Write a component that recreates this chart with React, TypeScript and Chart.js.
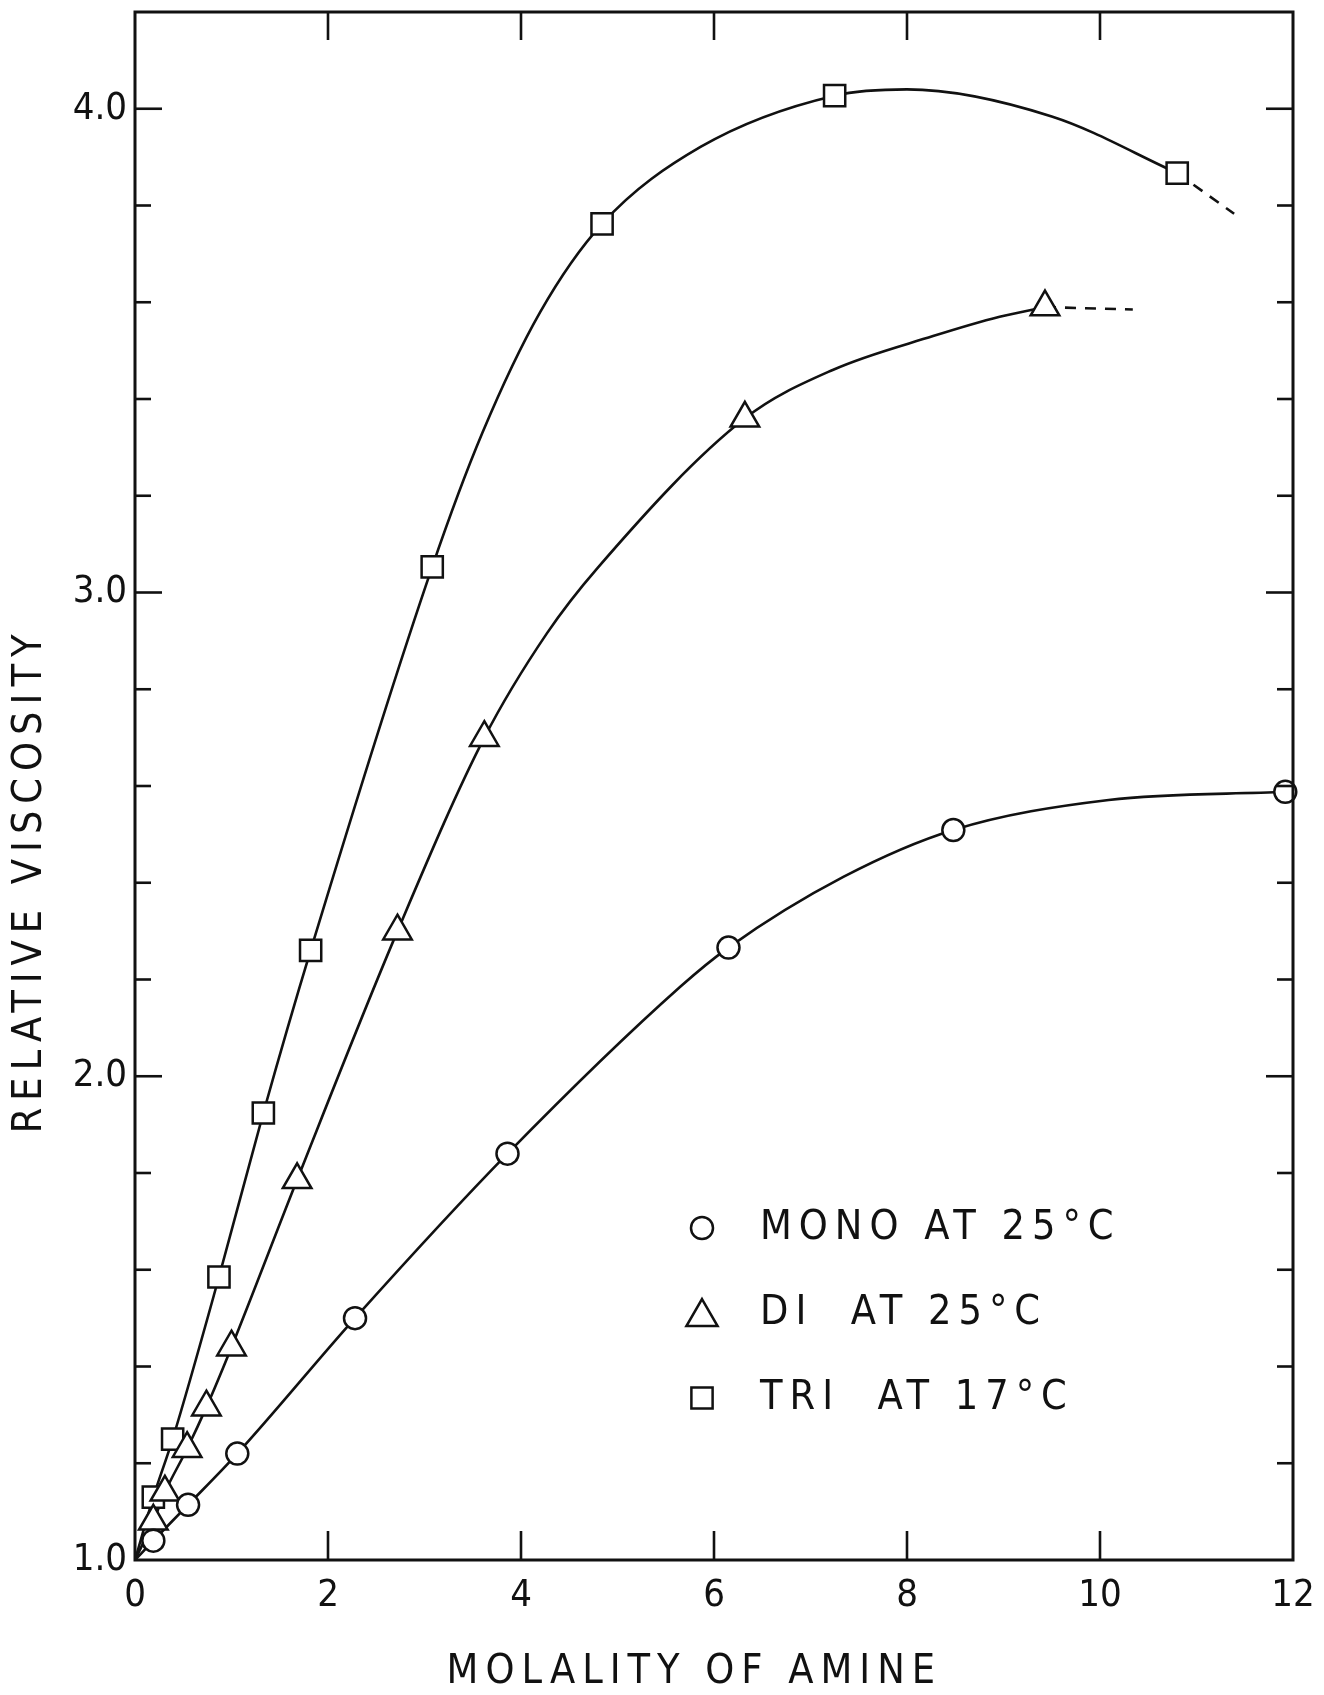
import React, { useEffect, useRef } from 'react';
import { Chart, registerables } from 'chart.js';
import { drawPoint } from 'chart.js/helpers';

Chart.register(...registerables);

// ---- data ----
const monoX = [0.19, 0.55, 1.06, 2.28, 3.86, 6.15, 8.48, 11.92];
const monoY = [1.04, 1.114, 1.22, 1.5, 1.84, 2.266, 2.509, 2.588];

const diX = [0.19, 0.31, 0.54, 0.74, 1.0, 1.68, 2.72, 3.62, 6.32, 9.43];
const diY = [1.08, 1.14, 1.23, 1.316, 1.44, 1.786, 2.3, 2.7, 3.36, 3.59];

const triX = [0.19, 0.39, 0.87, 1.33, 1.82, 3.08, 4.84, 7.25, 10.8];
const triY = [1.13, 1.25, 1.585, 1.924, 2.26, 3.053, 3.762, 4.027, 3.867];

// extra points (no markers there)
const curveStartX = 0;
const curveStartY = 1.0;
const monoCurveExtraX = [5.65, 7.34, 10.09];
const monoCurveExtraY = [2.185, 2.412, 2.571];
const diCurveExtraX = [4.27, 4.79, 7.23, 8.27, 8.96];
const diCurveExtraY = [2.916, 3.05, 3.46, 3.53, 3.57];
const triCurveExtraX = [3.6, 4.2, 5.86, 8.0, 9.5];
const triCurveExtraY = [3.33, 3.58, 3.921, 4.04, 3.984];

// dashed extrapolations
const diDashX = [9.43, 10.34];
const diDashY = [3.59, 3.585];
const triDashX = [10.8, 11.39];
const triDashY = [3.867, 3.783];

const legendLabels = ['MONO AT 25°C', 'DI  AT 25°C', 'TRI  AT 17°C'];
const legendStyles = ['circle', 'triangle', 'rect'];
const xTitle = 'MOLALITY OF AMINE';
const yTitle = 'RELATIVE VISCOSITY';

const xMin = 0, xMax = 12, xStep = 2;
const yMin = 1.0, yMax = 4.2, yStep = 0.2;

// ---- styles ----
const INK = '#111';
const FONT = '"DejaVu Sans Condensed", "DejaVu Sans", sans-serif';
const radii: Record<string, number> = { circle: 11, triangle: 16.5, rect: 15 };

const pts = (xs: number[], ys: number[]) => xs.map((x, i) => ({ x, y: ys[i] }));
const curve = (xs: number[], ys: number[], exX: number[] = [], exY: number[] = []) =>
  [{ x: curveStartX, y: curveStartY }, ...pts(xs, ys), ...pts(exX, exY)].sort((a, b) => a.x - b.x);

const isMajor = (v: number) => Math.abs(v - Math.round(v)) < 1e-6;

const decorPlugin = {
  id: 'decor',
  beforeDraw(chart: any) {
    const { ctx, width, height } = chart;
    ctx.save();
    ctx.fillStyle = '#fff';
    ctx.fillRect(0, 0, width, height);
    ctx.restore();
  },
  afterDraw(chart: any) {
    const { ctx, chartArea, scales } = chart;
    const { left, right, top, bottom } = chartArea;
    const x = scales.x, y = scales.y;
    ctx.save();
    ctx.strokeStyle = INK;
    ctx.lineCap = 'butt';
    ctx.lineWidth = 3;
    ctx.strokeRect(left, top, right - left, bottom - top);
    ctx.lineWidth = 2.6;
    const line = (x1: number, y1: number, x2: number, y2: number) => {
      ctx.beginPath(); ctx.moveTo(x1, y1); ctx.lineTo(x2, y2); ctx.stroke();
    };
    y.ticks.forEach((t: any) => {
      const v = t.value;
      if (v <= y.min + 1e-6 || v >= y.max - 1e-6) return;
      const py = y.getPixelForValue(v);
      const len = isMajor(v) ? 27 : 16;
      line(left, py, left + len, py);
      line(right, py, right - len, py);
    });
    x.ticks.forEach((t: any) => {
      const v = t.value;
      if (v <= x.min + 1e-6 || v >= x.max - 1e-6) return;
      const px = x.getPixelForValue(v);
      line(px, bottom, px, bottom - 29);
      line(px, top, px, top + 28);
    });

    ctx.fillStyle = INK;
    (ctx as any).letterSpacing = '7px';
    ctx.font = `41px ${FONT}`;
    ctx.textBaseline = 'middle';
    ctx.textAlign = 'center';
    // x title
    ctx.fillText(xTitle, left + (right - left) * 0.483, bottom + 112);
    // y title
    ctx.save();
    ctx.translate(30, top + (bottom - top) * 0.561);
    ctx.rotate(-Math.PI / 2);
    ctx.fillText(yTitle, 0, 0);
    ctx.restore();

    // legend
    const lx = left + 567;
    const ly0 = top + 1216;
    const dy = 85;
    ctx.textAlign = 'left';
    legendLabels.forEach((lab, i) => {
      const cy = ly0 + i * dy;
      ctx.fillStyle = '#fff';
      ctx.strokeStyle = INK;
      ctx.lineWidth = 2.5;
      const st = legendStyles[i];
      const r = st === 'circle' ? 11 : st === 'triangle' ? 18 : 15;
      drawPoint(ctx, { pointStyle: st as any, rotation: 0, radius: r, borderWidth: 2.5 }, lx, cy + (st === 'triangle' ? 4 : 0));
      ctx.fillStyle = INK;
      ctx.fillText(lab, lx + 58, cy);
    });
    (ctx as any).letterSpacing = '0px';
    ctx.restore();
  },
};

const markerDs = (xs: number[], ys: number[], style: string) => ({
  data: pts(xs, ys),
  showLine: false,
  pointStyle: style,
  pointRadius: radii[style],
  pointBorderWidth: 2.5,
  pointBorderColor: INK,
  pointBackgroundColor: '#fff',
  clip: false,
});

const curveDs = (data: any[]) => ({
  data,
  showLine: true,
  borderColor: INK,
  borderWidth: 2.6,
  pointRadius: 0,
  cubicInterpolationMode: 'monotone',
  fill: false,
});

const dashDs = (xs: number[], ys: number[]) => ({
  data: pts(xs, ys),
  showLine: true,
  borderColor: INK,
  borderWidth: 2.6,
  borderDash: [11, 9],
  pointRadius: 0,
  fill: false,
});

export default function App() {
  const ref = useRef<HTMLCanvasElement>(null);
  useEffect(() => {
    const chart = new Chart(ref.current as HTMLCanvasElement, {
      type: 'line',
      data: {
        datasets: [
          markerDs(monoX, monoY, 'circle'),
          markerDs(diX, diY, 'triangle'),
          markerDs(triX, triY, 'rect'),
          curveDs(curve(monoX, monoY, monoCurveExtraX, monoCurveExtraY)),
          curveDs(curve(diX, diY, diCurveExtraX, diCurveExtraY)),
          curveDs(curve(triX, triY, triCurveExtraX, triCurveExtraY)),
          dashDs(diDashX, diDashY),
          dashDs(triDashX, triDashY),
        ] as any,
      },
      options: {
        animation: false,
        responsive: false,
        events: [],
        layout: { autoPadding: false, padding: { left: 0, top: 12, right: 31, bottom: 0 } },
        plugins: { legend: { display: false }, tooltip: { enabled: false } },
        scales: {
          x: {
            type: 'linear',
            min: xMin,
            max: xMax,
            border: { display: false },
            grid: { display: false, drawTicks: false },
            ticks: {
              stepSize: xStep,
              autoSkip: false,
              maxRotation: 0,
              padding: 13,
              color: INK,
              font: { family: FONT, size: 38 },
              callback: (v: any) => String(Math.round(Number(v))),
            },
            afterFit: (s: any) => { s.height = 135; s.paddingLeft = 0; s.paddingRight = 0; },
          },
          y: {
            type: 'linear',
            min: yMin,
            max: yMax,
            border: { display: false },
            grid: { display: false, drawTicks: false },
            ticks: {
              stepSize: yStep,
              maxTicksLimit: 40,
              autoSkip: false,
              padding: 8,
              color: INK,
              font: { family: FONT, size: 38 },
              callback: (v: any) => (isMajor(Number(v)) ? Number(v).toFixed(1) : ''),
            },
            afterFit: (s: any) => { s.width = 135; s.paddingTop = 0; s.paddingBottom = 0; },
          },
        },
      } as any,
      plugins: [decorPlugin],
    });
    return () => chart.destroy();
  }, []);
  return (
    <div style={{ position: 'absolute', left: 0, top: 0, width: 1324, height: 1695, background: '#fff' }}>
      <canvas ref={ref} width={1324} height={1695} style={{ display: 'block', width: 1324, height: 1695 }} />
    </div>
  );
}
